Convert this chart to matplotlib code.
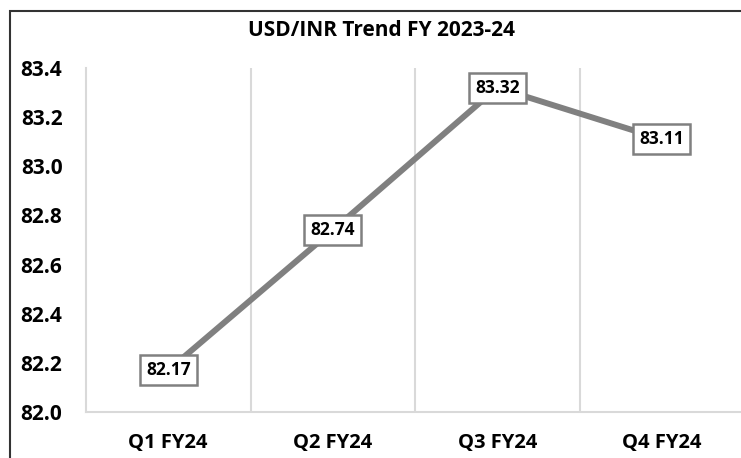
import matplotlib.pyplot as plt
from matplotlib.patches import Rectangle

# данные
quarters = ['Q1 FY24', 'Q2 FY24', 'Q3 FY24', 'Q4 FY24']
usd_inr = [82.17, 82.74, 83.32, 83.11]
y_ticks = [82.0, 82.2, 82.4, 82.6, 82.8, 83.0, 83.2, 83.4]

plt.rcParams['font.family'] = ['Open Sans', 'DejaVu Sans']
plt.rcParams['font.weight'] = 'bold'

fig = plt.figure(figsize=(7.41, 4.58), dpi=100)
ax = fig.add_axes([86 / 741, 1 - 412 / 458, 658 / 741, 344 / 458])

x = list(range(len(quarters)))
ax.plot(x, usd_inr, color='#808080', linewidth=4.3, solid_capstyle='butt', zorder=2)

# подписи значений в рамках
for xi, v in zip(x, usd_inr):
    ax.text(xi, v, f'{v:.2f}', ha='center', va='center', fontsize=12.5,
            fontweight='bold', color='black', zorder=3,
            bbox=dict(boxstyle='square,pad=0.35', facecolor='white',
                      edgecolor='#808080', linewidth=1.8))

ax.set_xlim(-0.5, len(quarters) - 0.5)
ax.set_ylim(82.0, 83.4)
ax.set_yticks(y_ticks)
ax.set_yticklabels([f'{t:.1f}' for t in y_ticks], fontsize=15, fontweight='bold')
ax.set_xticks(x)
ax.set_xticklabels(quarters, fontsize=14.5, fontweight='bold')
ax.tick_params(axis='both', length=0)
ax.tick_params(axis='y', pad=17)
ax.tick_params(axis='x', pad=15)

# вертикальные линии сетки между категориями
for b in [0.5, 1.5, 2.5]:
    ax.axvline(b, color='#d9d9d9', linewidth=1.5, zorder=1)

for s in ['top', 'right']:
    ax.spines[s].set_visible(False)
ax.spines['left'].set_color('#d9d9d9')
ax.spines['left'].set_linewidth(1.5)
ax.spines['bottom'].set_color('#d9d9d9')
ax.spines['bottom'].set_linewidth(1.5)

fig.text(382 / 741, 1 - 30 / 458, 'USD/INR Trend FY 2023-24', ha='center', va='center',
         fontsize=15, fontweight='bold')

# внешняя рамка
fig.patches.append(Rectangle((10 / 741, -0.1), 1.2, 1 - 11 / 458 + 0.1,
                             transform=fig.transFigure, fill=False,
                             edgecolor='#333333', linewidth=1.5))

fig.savefig('out.png', dpi=100)
